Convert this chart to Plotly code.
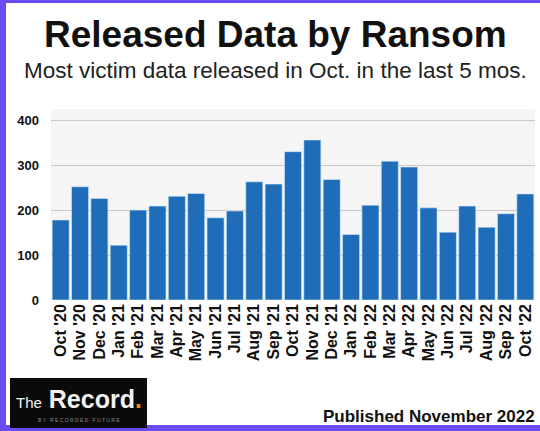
import plotly.graph_objects as go

months = ["Oct '20", "Nov '20", "Dec '20", "Jan '21", "Feb '21", "Mar '21", "Apr '21",
          "May '21", "Jun '21", "Jul '21", "Aug '21", "Sep '21", "Oct '21", "Nov '21",
          "Dec '21", "Jan '22", "Feb '22", "Mar '22", "Apr '22", "May '22", "Jun '22",
          "Jul '22", "Aug '22", "Sep '22", "Oct '22"]
released = [178, 252, 226, 122, 200, 209, 231, 237, 183, 198, 263, 258, 330, 356,
            268, 146, 211, 309, 296, 205, 151, 209, 162, 192, 236]
y_ticks = [0, 100, 200, 300, 400]

W, H = 540, 431
ML, MR, MT, MB = 51, 5, 109, 131


def px(x):
    return (x - ML) / (W - ML - MR)


def py(y):
    return (H - MB - y) / (H - MT - MB)


fig = go.Figure(go.Bar(
    x=months, y=released,
    marker=dict(color="#1f6cb8", line=dict(color="#d6ebf8", width=0.6)),
    hoverinfo="x+y",
))

purple = "#6a4cf2"
shapes = [
    dict(type="rect", xref="paper", yref="paper", x0=px(0), x1=px(6), y0=py(431), y1=py(0),
         fillcolor=purple, line_width=0, layer="above"),
    dict(type="rect", xref="paper", yref="paper", x0=px(0), x1=px(540), y0=py(3), y1=py(0),
         fillcolor=purple, line_width=0, layer="above"),
    dict(type="rect", xref="paper", yref="paper", x0=px(0), x1=px(540), y0=py(431), y1=py(425),
         fillcolor=purple, line_width=0, layer="above"),
    # logo box
    dict(type="rect", xref="paper", yref="paper", x0=px(10), x1=px(147), y0=py(428), y1=py(378),
         fillcolor="#0a0a0a", line_width=0, layer="above"),
]

font = "Liberation Sans, Arial, sans-serif"


def note(text, x, y, size, color="#111", xanchor="center"):
    return dict(text=text, xref="paper", yref="paper", x=px(x), y=py(y),
                xanchor=xanchor, yanchor="middle", showarrow=False,
                font=dict(size=size, color=color, family=font))


annotations = [
    note("<b>Released Data by Ransom</b>", 275, 34, 37),
    note("Most victim data released in Oct. in the last 5 mos.", 275, 70, 22.5, "#222"),
    note("<span style='font-size:15px'>The</span> <b>Record</b>"
         "<span style='color:#f08a24'><b>.</b></span>", 79, 399, 25, "#f2f2f2"),
    note("B Y   R E C O R D E D   F U T U R E", 79, 420, 5, "#8a8a8a"),
    note("<b>Published November 2022</b>", 537, 416, 17, xanchor="right"),
]

fig.update_layout(
    width=W, height=H,
    margin=dict(l=ML, r=MR, t=MT, b=MB),
    paper_bgcolor="white", plot_bgcolor="#f5f5f5",
    bargap=0.12, showlegend=False,
    shapes=shapes, annotations=annotations,
    xaxis=dict(tickangle=-90, tickfont=dict(size=16, color="#111", family=font, weight="bold"),
               showgrid=False, showline=False, ticks="",
               range=[-0.5, len(months) - 0.5]),
    yaxis=dict(range=[0, 425], tickvals=y_ticks, showgrid=True, gridcolor="#c8c8c8",
               gridwidth=1, zeroline=False, ticks="", ticklabelstandoff=11,
               tickfont=dict(size=13, color="#111", family=font, weight="bold")),
)

fig.write_html("out.html", config={"displayModeBar": False},
               post_script="document.body.style.margin='0';"
                           "document.body.style.overflow='hidden';")
